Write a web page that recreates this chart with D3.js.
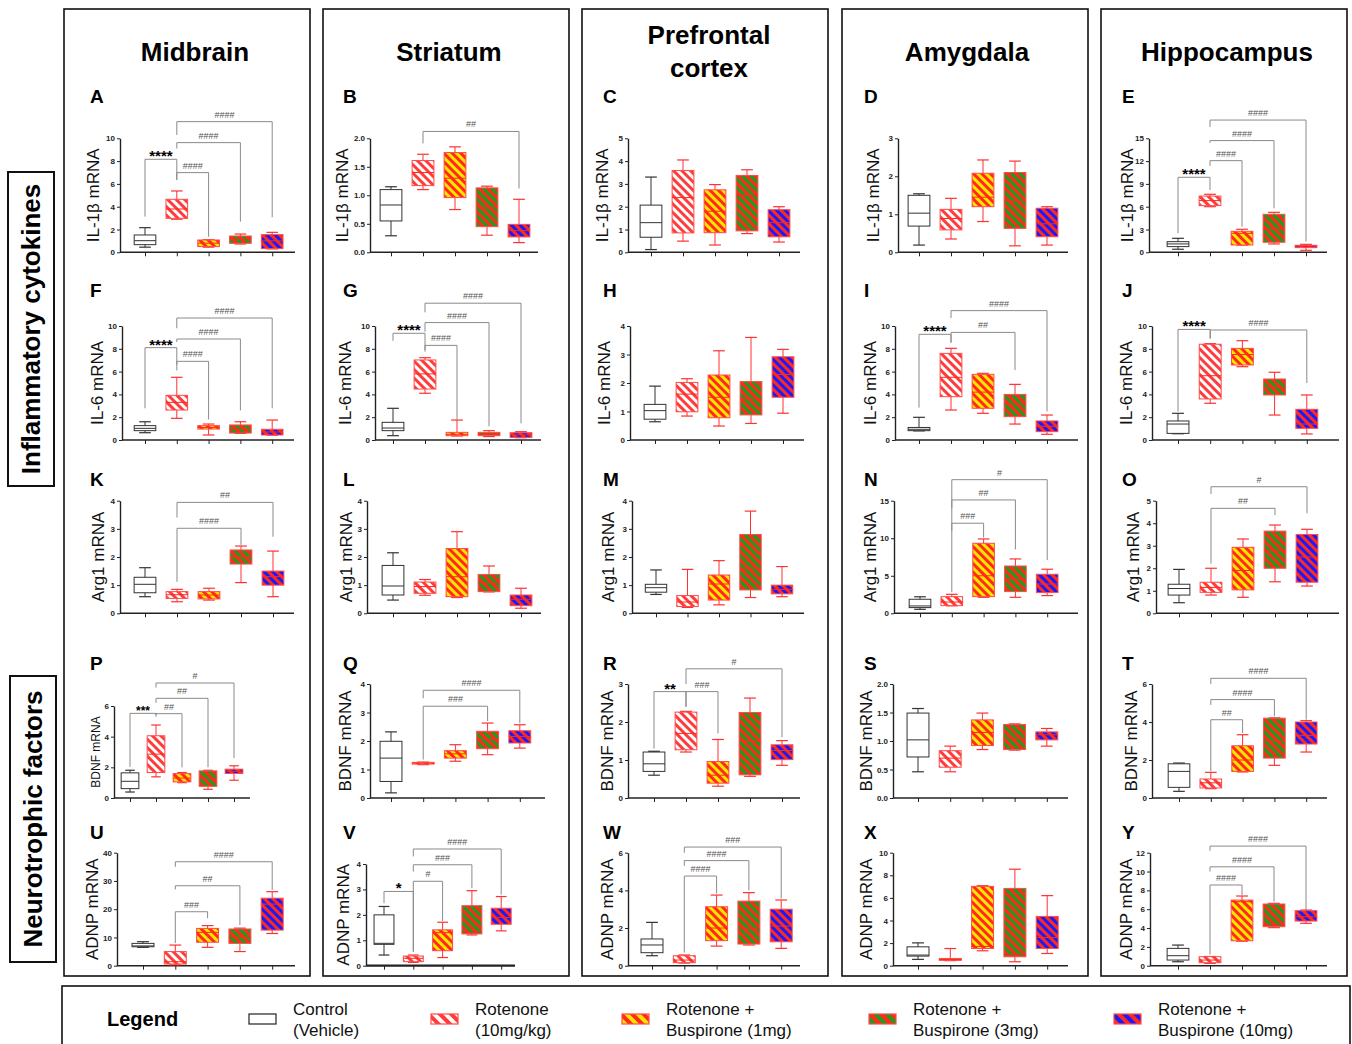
<!DOCTYPE html>
<html><head><meta charset="utf-8">
<script src="https://cdn.jsdelivr.net/npm/d3@7"></script>
<style>body{margin:0;background:#fff} svg{display:block;font-family:Arial,"Liberation Sans",sans-serif}</style>
</head><body>
<svg id="c" width="1352" height="1044"></svg>
<script>
// ---------------- DATA ----------------
const groups = ["Control\n(Vehicle)", "Rotenone\n(10mg/kg)", "Rotenone +\nBuspirone (1mg)", "Rotenone +\nBuspirone (3mg)", "Rotenone +\nBuspirone (10mg)"];
const regions = ["Midbrain", "Striatum", "Prefrontal\ncortex", "Amygdala", "Hippocampus"];
const markers = ["IL-1β mRNA", "IL-6 mRNA", "Arg1 mRNA", "BDNF mRNA", "ADNP mRNA"];
const sections = ["Inflammatory cytokines", "Neurotrophic factors"];
const letters = [["A","B","C","D","E"],["F","G","H","I","J"],["K","L","M","N","O"],["P","Q","R","S","T"],["U","V","W","X","Y"]];
const yMax  = [[10,2,5,3,15],[10,10,4,10,10],[4,4,4,15,5],[6,4,3,2,6],[40,4,6,10,12]];
const yStep = [[2,0.5,1,1,3],[2,2,1,2,2],[1,1,1,5,1],[2,1,1,0.5,2],[10,1,2,2,2]];

// box statistics per region, per group: [min, q1, median, q3, max]
const il1b = [
 [[0.45,0.67,1.02,1.52,2.16],[2.9,2.98,3.8,4.65,5.38],[0.45,0.5,0.8,1.08,1.1],[0.73,0.79,1.2,1.43,1.6],[0.3,0.32,1.0,1.55,1.75]],
 [[0.29,0.55,0.83,1.1,1.15],[1.1,1.17,1.4,1.61,1.72],[0.75,0.96,1.3,1.75,1.85],[0.3,0.45,0.78,1.13,1.16],[0.17,0.27,0.38,0.49,0.93]],
 [[0.12,0.66,1.3,2.07,3.3],[0.49,0.85,2.4,3.59,4.05],[0.32,0.86,1.8,2.74,2.97],[0.82,0.94,2.5,3.37,3.62],[0.45,0.68,1.3,1.87,2.0]],
 [[0.19,0.69,1.03,1.5,1.54],[0.35,0.59,0.89,1.13,1.42],[0.81,1.2,1.45,2.08,2.43],[0.17,0.63,1.35,2.1,2.4],[0.19,0.41,0.75,1.16,1.2]],
 [[0.4,0.75,1.1,1.4,1.84],[6.0,6.14,6.8,7.4,7.63],[0.95,0.96,2.5,2.76,3.03],[1.1,1.32,3.0,5.0,5.26],[0.26,0.61,0.8,0.92,1.05]]
];
const il6 = [
 [[0.64,0.82,1.02,1.26,1.6],[1.9,2.63,3.3,3.92,5.5],[0.44,0.96,1.1,1.26,1.4],[0.58,0.61,1.0,1.32,1.6],[0.42,0.44,0.7,0.94,1.75]],
 [[0.38,0.82,1.05,1.55,2.78],[4.1,4.47,5.8,7.02,7.22],[0.35,0.38,0.5,0.67,1.75],[0.3,0.38,0.52,0.67,0.82],[0.2,0.23,0.45,0.64,0.73]],
 [[0.64,0.73,1.03,1.25,1.89],[0.84,0.99,1.61,2.02,2.15],[0.49,0.78,1.5,2.28,3.13],[0.58,0.88,1.46,2.05,3.6],[0.94,1.5,2.3,2.92,3.18]],
 [[0.8,0.82,0.94,1.1,1.99],[2.63,3.8,5.5,7.6,8.04],[2.34,2.78,4.2,5.76,5.85],[1.4,2.05,3.16,4.0,4.88],[0.5,0.73,1.2,1.67,2.19]],
 [[0.55,0.58,1.4,1.67,2.34],[3.22,3.6,5.64,8.4,8.45],[6.43,6.58,7.5,8.04,8.71],[2.19,3.95,4.6,5.35,5.94],[0.53,1.02,1.4,2.69,3.95]]
];
const arg1 = [
 [[0.59,0.73,1.03,1.28,1.62],[0.41,0.53,0.66,0.77,0.85],[0.47,0.51,0.65,0.77,0.89],[1.09,1.75,2.0,2.25,2.39],[0.59,1.0,1.3,1.5,2.21]],
 [[0.47,0.65,0.97,1.7,2.15],[0.64,0.71,0.95,1.11,1.2],[0.56,0.59,1.3,2.3,2.9],[0.76,0.77,1.1,1.38,1.68],[0.18,0.27,0.5,0.65,0.89]],
 [[0.67,0.75,0.91,1.03,1.54],[0.21,0.24,0.4,0.63,1.56],[0.3,0.47,1.04,1.36,1.87],[0.56,0.83,1.6,2.8,3.63],[0.59,0.69,0.85,1.0,1.66]],
 [[0.53,0.76,0.98,1.87,2.2],[1.0,1.02,1.5,2.22,2.53],[2.13,2.22,5.0,9.33,9.9],[2.13,2.89,4.5,6.3,7.24],[2.36,2.76,3.9,5.2,5.87]],
 [[0.47,0.81,1.1,1.29,1.95],[0.81,0.93,1.15,1.38,2.0],[0.71,1.04,1.9,2.93,3.3],[1.4,2.0,2.8,3.65,3.92],[1.21,1.38,2.5,3.5,3.73]]
];
const bdnf = [
 [[0.39,0.61,1.09,1.64,1.81],[1.38,1.66,2.86,4.06,4.76],[1.0,1.05,1.3,1.59,1.66],[0.57,0.76,1.3,1.77,1.81],[1.16,1.6,1.75,1.88,2.1]],
 [[0.18,0.58,1.4,1.99,2.32],[1.17,1.19,1.22,1.25,1.26],[1.29,1.4,1.55,1.66,1.87],[1.52,1.73,2.05,2.34,2.63],[1.75,1.93,2.16,2.36,2.57]],
 [[0.6,0.7,0.9,1.21,1.23],[1.21,1.27,1.7,2.26,2.28],[0.31,0.39,0.6,0.96,1.54],[0.57,0.61,1.5,2.25,2.63],[0.86,1.01,1.25,1.4,1.51]],
 [[0.46,0.72,1.02,1.49,1.57],[0.46,0.54,0.7,0.83,0.91],[0.85,0.92,1.15,1.37,1.49],[0.84,0.85,1.05,1.29,1.3],[0.91,1.02,1.11,1.16,1.22]],
 [[0.35,0.56,1.4,1.8,1.84],[0.49,0.53,0.8,1.0,1.35],[1.37,1.4,2.0,2.75,3.33],[1.72,2.1,3.0,4.2,4.22],[2.42,2.84,3.3,4.0,4.07]]
];
const adnp = [
 [[6.5,6.7,7.0,7.9,8.5],[0.3,0.6,1.4,5.0,7.3],[6.5,8.3,11.8,13.2,14.2],[5.0,7.9,10.0,13.0,13.3],[11.4,12.6,21.8,23.9,26.2]],
 [[0.42,0.84,0.88,2.0,2.33],[0.13,0.16,0.29,0.38,0.42],[0.32,0.59,1.3,1.41,1.71],[1.21,1.25,1.32,2.36,2.95],[1.37,1.63,1.9,2.26,2.72]],
 [[0.53,0.69,1.1,1.42,2.3],[0.14,0.16,0.3,0.53,0.57],[1.04,1.33,2.0,3.13,3.75],[1.1,1.15,1.98,3.43,3.88],[0.92,1.27,2.1,3.0,3.49]],
 [[0.56,0.85,0.94,1.67,2.02],[0.45,0.47,0.55,0.64,1.52],[1.32,1.52,1.7,7.02,7.08],[0.35,0.79,1.0,6.84,8.54],[1.08,1.52,2.5,4.36,6.2]],
 [[0.42,0.6,1.06,1.84,2.19],[0.25,0.32,0.6,0.96,0.98],[2.6,2.65,6.8,6.97,7.4],[4.04,4.14,4.3,6.55,6.62],[4.5,4.74,5.2,5.84,5.91]]
];

// significance brackets: [fromGroup, toGroup, level, leftLegEnd, rightLegEnd, label]  (values in axis units)
const il1bSig = [
 [[0,1,8.16,3.13,6.35,"****"],[1,2,6.99,6.35,1.37,"####"],[1,3,9.62,9.1,2.69,"####"],[1,4,11.46,10.3,3.07,"####"]],
 [[1,4,2.12,1.91,1.12,"##"]],
 [], [],
 [[0,1,9.87,2.5,8.2,"****"],[1,2,12.06,11.36,3.38,"####"],[1,3,14.7,14.4,5.8,"####"],[1,4,17.4,16.5,1.4,"####"]]
];
const il6Sig = [
 [[0,1,8.1,2.78,6.1,"****"],[1,2,6.9,6.6,1.8,"####"],[1,3,8.86,8.6,2.6,"####"],[1,4,10.7,9.8,2.78,"####"]],
 [[0,1,9.36,8.7,7.9,"****"],[1,2,8.3,7.75,1.8,"####"],[1,3,10.3,9.5,1.2,"####"],[1,4,12.0,11.2,1.46,"####"]],
 [],
 [[0,1,9.27,2.84,8.5,"****"],[1,3,9.44,8.6,6.14,"##"],[1,4,11.35,10.7,2.5,"####"]],
 [[0,1,9.7,2.5,8.9,"****"],[1,4,9.65,8.9,5.0,"####"]]
];
const arg1Sig = [
 [[1,3,3.02,1.12,2.43,"####"],[1,4,3.94,3.4,2.72,"##"]],
 [], [],
 [[1,2,12.0,11.0,10.1,"###"],[1,3,15.1,14.0,8.5,"##"],[1,4,17.8,2.8,7.1,"#"]],
 [[1,3,4.66,2.2,4.36,"##"],[1,4,5.62,5.3,4.44,"#"]]
];
const bdnfSig = [
 [[0,1,5.52,2.03,5.4,"***"],[1,2,5.5,5.3,2.0,"##"],[1,3,6.5,6.2,2.0,"##"],[1,4,7.5,7.2,2.6,"#"]],
 [[1,3,3.22,1.35,2.7,"###"],[1,4,3.78,3.5,2.62,"####"]],
 [[0,1,2.8,1.3,2.4,"**"],[1,2,2.8,2.4,1.7,"###"],[1,4,3.4,3.0,1.6,"#"]],
 [],
 [[1,2,4.12,1.4,3.42,"##"],[1,3,5.18,4.9,4.3,"####"],[1,4,6.3,6.0,4.12,"####"]]
];
const adnpSig = [
 [[1,2,19.1,8,16.8,"###"],[1,3,28.3,27,14.4,"##"],[1,4,36.8,35,26.8,"####"]],
 [[0,1,2.92,2.46,0.55,"*"],[1,2,3.32,0.55,1.76,"#"],[1,3,3.97,3.7,3.05,"###"],[1,4,4.59,4.3,2.79,"####"]],
 [[1,2,4.76,0.7,3.84,"####"],[1,3,5.58,5.3,4.0,"####"],[1,4,6.3,6.0,3.57,"###"]],
 [],
 [[1,2,8.57,1.2,7.5,"####"],[1,3,10.5,10.0,6.8,"####"],[1,4,12.7,12.2,5.73,"####"]]
];
const rowStats = [il1b, il6, arg1, bdnf, adnp];
const rowSig = [il1bSig, il6Sig, arg1Sig, bdnfSig, adnpSig];

// ---------------- LAYOUT ----------------
const colLeft = [64, 323, 582, 842, 1101], colW = 246;
const titleX = [195, 449, 709, 967, 1227];
const rowTop = [138.3, 326, 500.7, 684, 852.7];
const rowBottom = [252.3, 440, 613.3, 798, 965.7];
const topOverride = {P: 706, V: 864};
const letterBase = [103, 297, 486, 670, 839];
const letterDx = [26, 20, 21, 22, 21];
const axisX = [[120,370,628,898,1149],[122,375,630,895,1152],[120,367,632,894,1156],[114,370,628,893,1152],[117,366,628,893,1150]];
const firstTick = [[145,391,651,919,1178],[145,393,655,919,1178],[145,393,656,920,1179],[130,391,654,918,1179],[143,384,652,918,1178]];
const stepX = [[31.8,32,32,32,32],[31.8,32,32,32,32.2],[32,32,31.5,31.8,32],[26,32.2,32,32.2,31.8],[32.3,29.3,32.3,32.3,32]];
const axisEnd = [[295,538,800,1068,1327],[294,541,804,1078,1339],[294,541,804,1078,1339],[250,545,800,1068,1327],[295,515,800,1068,1327]];
const labelX = [[93,342,602,873,1127],[97,345,604,870,1126],[98,346,608,870,1133],[96,345,607,866,1131],[92,343,607,866,1126]];

const svg = d3.select("#c");
const defs = svg.append("defs");
const fills = [null, ["#ffffff","#ff3b3b"], ["#ffe600","#ff2a1a"], ["#1e9c1e","#ff2a1a"], ["#1a1aff","#ff2a1a"]];
function mkPattern(id, base, stripe, w) {
  const p = defs.append("pattern").attr("id", id).attr("patternUnits","userSpaceOnUse")
    .attr("width", w).attr("height", w).attr("patternTransform","rotate(-45)");
  p.append("rect").attr("width", w).attr("height", w).attr("fill", base);
  p.append("rect").attr("width", w/2).attr("height", w).attr("fill", stripe);
}
fills.forEach((f,i)=>{ if(f){ mkPattern("p"+i, f[0], f[1], 6); mkPattern("L"+i, f[0], f[1], 8);} });

// column frames
colLeft.forEach(x=>svg.append("rect").attr("x",x).attr("y",9).attr("width",colW).attr("height",967)
  .attr("fill","none").attr("stroke","#111").attr("stroke-width",1.6));

// column titles
regions.forEach((t,c)=>{
  const lines = t.split("\n");
  const base = lines.length>1 ? 44 : 61;
  lines.forEach((ln,k)=>svg.append("text").attr("x",titleX[c]).attr("y",base+k*33)
    .attr("text-anchor","middle").attr("font-size",26).attr("font-weight","bold").attr("fill","#000").text(ln));
});

// section side labels
const secBoxes = [[8,172,46,314],[10,676,46,286]];
sections.forEach((s,i)=>{
  const b = secBoxes[i];
  svg.append("rect").attr("x",b[0]).attr("y",b[1]).attr("width",b[2]).attr("height",b[3])
    .attr("fill","none").attr("stroke","#111").attr("stroke-width",2);
  svg.append("text").attr("transform",`translate(${b[0]+b[2]/2+9},${b[1]+b[3]/2}) rotate(-90)`)
    .attr("text-anchor","middle").attr("font-size",26).attr("font-weight","bold").text(s);
});

// panels
for (let r=0;r<5;r++) for (let c=0;c<5;c++) {
  const L = letters[r][c];
  const stats = rowStats[r][c], sig = rowSig[r][c];
  const top = topOverride[L] !== undefined ? topOverride[L] : rowTop[r];
  const bottom = rowBottom[r];
  const small = (L==="P");
  const g = svg.append("g");
  g.append("text").attr("x",colLeft[c]+letterDx[c]).attr("y",letterBase[r])
    .attr("font-size",19).attr("font-weight","bold").text(L);

  const y = d3.scaleLinear().domain([0,yMax[r][c]]).range([bottom, top]);
  const x = d3.scaleLinear().domain([0,1]).range([firstTick[r][c], firstTick[r][c]+stepX[r][c]]);
  const bw = stepX[r][c]*0.68;
  const fmt = yStep[r][c] < 1 ? d3.format(".1f") : d3.format("d");

  const ya = g.append("g").attr("transform",`translate(${axisX[r][c]},0)`)
    .call(d3.axisLeft(y).tickValues(d3.range(0, yMax[r][c]+1e-9, yStep[r][c])).tickSize(3).tickSizeOuter(0).tickPadding(2).tickFormat(fmt));
  ya.selectAll("text").attr("font-size",8).attr("font-weight","bold").attr("fill","#222").attr("font-family","Arial, Liberation Sans, sans-serif");
  ya.selectAll("line").attr("stroke","#222");
  ya.select(".domain").attr("stroke","#222").attr("stroke-width",1.4);

  const xa = g.append("g").attr("transform",`translate(0,${bottom})`)
    .call(d3.axisBottom(x).tickValues([0,1,2,3,4]).tickSize(4).tickSizeOuter(0).tickFormat(""));
  xa.select(".domain").remove();
  xa.selectAll("line").attr("stroke","#222");
  g.append("line").attr("x1",axisX[r][c]).attr("x2",axisEnd[r][c]).attr("y1",bottom).attr("y2",bottom)
    .attr("stroke","#222").attr("stroke-width", L==="V" ? 2.2 : 1.4);

  g.append("text").attr("transform",`translate(${labelX[r][c]+(small?4:6)},${(top+bottom)/2}) rotate(-90)`)
    .attr("text-anchor","middle").attr("font-size",small?12:17).attr("fill","#111").text(markers[r]);

  // brackets
  sig.forEach(s=>{
    const x1 = x(s[0]), x2 = x(s[1]);
    g.append("path").attr("d",`M${x1},${y(s[3])}V${y(s[2])}H${x2}V${y(s[4])}`)
      .attr("fill","none").attr("stroke","#8a8a8a").attr("stroke-width",1);
    const star = s[5].includes("*");
    g.append("text").attr("x",(x1+x2)/2).attr("y", star ? y(s[2])+2 : y(s[2])-4)
      .attr("text-anchor","middle").attr("font-size", star ? (small?12:15) : 9)
      .attr("font-weight", star ? "bold" : "normal").attr("fill", star ? "#000" : "#555").text(s[5]);
  });

  // boxes
  stats.forEach((d,i)=>{
    const cx = x(i);
    const col = i===0 ? "#333" : "#ff3030";
    g.append("line").attr("x1",cx).attr("x2",cx).attr("y1",y(d[0])).attr("y2",y(d[4])).attr("stroke",col).attr("stroke-width",1);
    [d[0],d[4]].forEach(v=>g.append("line").attr("x1",cx-bw*0.27).attr("x2",cx+bw*0.27).attr("y1",y(v)).attr("y2",y(v)).attr("stroke",col).attr("stroke-width",1.2));
    g.append("rect").attr("x",cx-bw/2).attr("width",bw).attr("y",y(d[3])).attr("height",Math.max(1,y(d[1])-y(d[3])))
      .attr("fill", i===0 ? "#fff" : `url(#p${i})`).attr("stroke", i===0 ? "#333" : "#ff4a4a").attr("stroke-width",1);
    g.append("line").attr("x1",cx-bw/2).attr("x2",cx+bw/2).attr("y1",y(d[2])).attr("y2",y(d[2]))
      .attr("stroke", i===0 ? "#333" : "#ff2a1a").attr("stroke-width",1);
  });
}

// legend
svg.append("rect").attr("x",62).attr("y",986).attr("width",1288).attr("height",70)
  .attr("fill","none").attr("stroke","#111").attr("stroke-width",1.6);
svg.append("text").attr("x",107).attr("y",1026).attr("font-size",20).attr("font-weight","bold").text("Legend");
const legX = [249, 431, 622, 869, 1114];
groups.forEach((gname,i)=>{
  svg.append("rect").attr("x",legX[i]).attr("y",1014).attr("width",27).attr("height",10)
    .attr("fill", i===0 ? "#fff" : `url(#L${i})`).attr("stroke", i===0 ? "#222" : "#ff4a4a").attr("stroke-width",1.2);
  gname.split("\n").forEach((ln,k)=>svg.append("text").attr("x",legX[i]+44).attr("y",1015+k*21)
    .attr("font-size",17).attr("fill","#111").text(ln));
});
</script>
</body></html>
